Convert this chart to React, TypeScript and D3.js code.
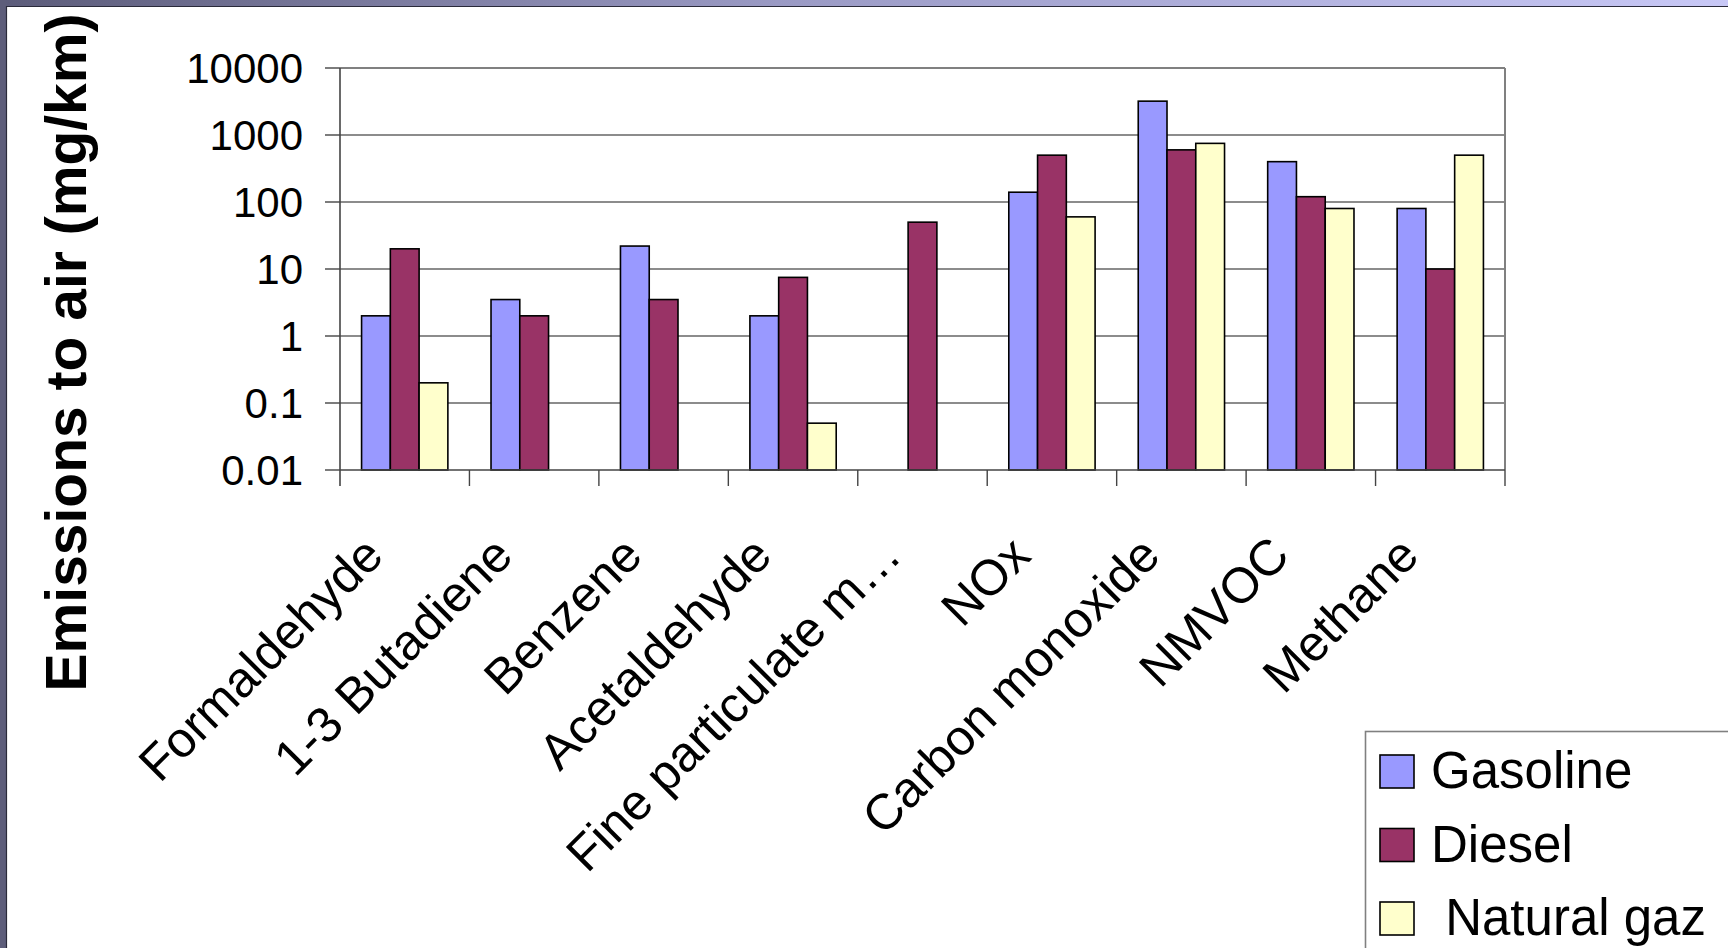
import React from "react";
import * as d3 from "d3";

const categories = [
  "Formaldehyde",
  "1-3 Butadiene",
  "Benzene",
  "Acetaldehyde",
  "Fine particulate m…",
  "NOx",
  "Carbon monoxide",
  "NMVOC",
  "Methane",
];
const gasoline: (number | null)[] = [2, 3.5, 22, 2, null, 140, 3200, 400, 80];
const diesel: (number | null)[] = [20, 2, 3.5, 7.5, 50, 500, 600, 120, 10];
const naturalGaz: (number | null)[] = [0.2, null, null, 0.05, null, 60, 750, 80, 500];
const seriesNames = ["Gasoline", "Diesel", " Natural gaz"];
const seriesColors = ["#9999FF", "#993366", "#FFFFCC"];
const yTicks = [0.01, 0.1, 1, 10, 100, 1000, 10000];
const yTickLabels = ["0.01", "0.1", "1", "10", "100", "1000", "10000"];
const yTitle = "Emissions to air (mg/km)";

const W = 1728;
const H = 948;
const FONT = "'Liberation Sans', Arial, Helvetica, sans-serif";

export default function App() {
  const left = 340;
  const right = 1505;
  const top = 68;
  const bottom = 470;

  const x0 = d3.scaleBand<string>().domain(categories).range([left, right]).padding(0);
  const bw = x0.bandwidth() / 4.5;
  const x1 = d3
    .scaleBand<string>()
    .domain(seriesNames)
    .range([0.75 * bw, 3.75 * bw])
    .padding(0);
  const y = d3.scaleLog().domain([0.01, 10000]).range([bottom, top]);

  const allSeries = [gasoline, diesel, naturalGaz];

  return (
    <div style={{ position: "fixed", left: 0, top: 0, width: W, height: H, overflow: "hidden" }}>
      <svg width={W} height={H} viewBox={`0 0 ${W} ${H}`} style={{ display: "block" }}>
        <defs>
          <linearGradient id="topbar" x1="0" x2="1" y1="0" y2="0">
            <stop offset="0" stopColor="#5c5c7a" />
            <stop offset="0.45" stopColor="#9a9ac4" />
            <stop offset="1" stopColor="#c8c8f6" />
          </linearGradient>
        </defs>
        <rect x={0} y={0} width={W} height={H} fill="#ffffff" />
        {/* frame */}
        <rect x={0} y={0} width={W} height={6} fill="url(#topbar)" />
        <line x1={0} x2={W} y1={6.5} y2={6.5} stroke="#2a2a3a" strokeWidth={1.2} />
        <rect x={0} y={0} width={6} height={H} fill="#5d5d7a" />
        <line x1={6.5} x2={6.5} y1={6} y2={H} stroke="#2a2a3a" strokeWidth={1.2} />

        {/* gridlines */}
        {yTicks.map((t, i) =>
          i > 0 && i < yTicks.length - 1 ? (
            <line key={"g" + i} x1={left} x2={right} y1={y(t)} y2={y(t)} stroke="#1a1a1a" strokeWidth={1.2} />
          ) : null
        )}

        {/* bars */}
        {categories.map((c, ci) => (
          <g key={"c" + ci}>
            {allSeries.map((s, si) => {
              const v = s[ci];
              if (v == null) return null;
              const bx = (x0(c) as number) + (x1(seriesNames[si]) as number);
              return (
                <rect
                  key={"b" + si}
                  x={bx}
                  y={y(v)}
                  width={x1.bandwidth()}
                  height={bottom - y(v)}
                  fill={seriesColors[si]}
                  stroke="#000"
                  strokeWidth={1.6}
                />
              );
            })}
          </g>
        ))}

        {/* plot border top/right */}
        <line x1={left} x2={right} y1={top} y2={top} stroke="#808080" strokeWidth={2} />
        <line x1={right} x2={right} y1={top} y2={bottom} stroke="#808080" strokeWidth={2} />

        {/* axes */}
        <line x1={left} x2={right} y1={bottom} y2={bottom} stroke="#444" strokeWidth={1.6} />
        <line x1={left} x2={left} y1={top} y2={bottom + 16} stroke="#444" strokeWidth={1.6} />
        {yTicks.map((t, i) => (
          <g key={"yt" + i}>
            <line x1={left - 15} x2={left} y1={y(t)} y2={y(t)} stroke="#444" strokeWidth={1.4} />
            <text
              x={303}
              y={y(t)}
              dy="0.36em"
              textAnchor="end"
              fontFamily={FONT}
              fontSize={42}
              fill="#000"
            >
              {yTickLabels[i]}
            </text>
          </g>
        ))}
        {categories.map((c, ci) => (
          <line
            key={"xt" + ci}
            x1={(x0(c) as number) + x0.bandwidth()}
            x2={(x0(c) as number) + x0.bandwidth()}
            y1={bottom}
            y2={bottom + 16}
            stroke="#444"
            strokeWidth={1.4}
          />
        ))}
        {categories.map((c, ci) => {
          const cx = (x0(c) as number) + x0.bandwidth() / 2;
          return (
            <text
              key={"xl" + ci}
              transform={`translate(${cx - 19},558) rotate(-45)`}
              textAnchor="end"
              fontFamily={FONT}
              fontSize={50}
              fill="#000"
            >
              {c}
            </text>
          );
        })}

        {/* y title */}
        <text
          transform="translate(86,352.5) rotate(-90)"
          textAnchor="middle"
          fontFamily={FONT}
          fontWeight="bold"
          fontSize={57}
          fill="#000"
        >
          {yTitle}
        </text>

        {/* legend */}
        <rect x={1365.5} y={731.5} width={400} height={300} fill="#fff" stroke="#808080" strokeWidth={1.6} />
        {seriesNames.map((s, si) => {
          const ry = 755 + si * 73.5;
          return (
            <g key={"l" + si}>
              <rect x={1380} y={ry} width={34} height={33} fill={seriesColors[si]} stroke="#000" strokeWidth={1.6} />
              <text
                x={1431}
                y={ry + 33}
                fontFamily={FONT}
                fontSize={51}
                fill="#000"
                style={{ whiteSpace: "pre" }}
              >
                {s}
              </text>
            </g>
          );
        })}
      </svg>
    </div>
  );
}
